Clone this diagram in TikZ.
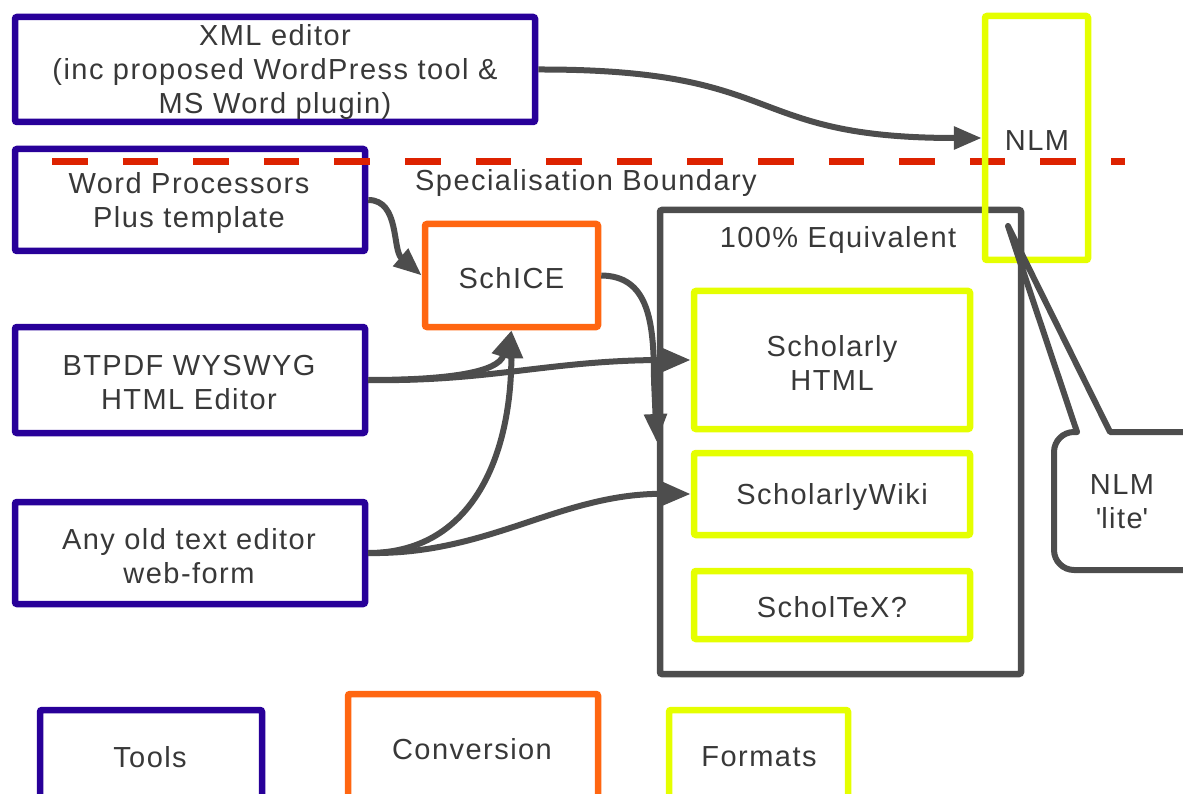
\documentclass[tikz,border=0pt]{standalone}
\usepackage{fontspec}
\setmainfont{Liberation Sans}[LetterSpace=5]
\usetikzlibrary{arrows.meta}
\definecolor{toolc}{HTML}{280099}
\definecolor{convc}{HTML}{FF6611}
\definecolor{fmtc}{HTML}{E5FF00}
\definecolor{grayc}{HTML}{4D4D4D}
\definecolor{redc}{HTML}{DD2200}
\definecolor{txtc}{HTML}{383838}
\tikzset{
  box/.style={draw, line width=6.5pt, rounded corners=2pt, inner sep=0pt},
  toolbox/.style={box, draw=toolc},
  convbox/.style={box, draw=convc},
  fmtbox/.style={box, draw=fmtc},
  grpbox/.style={box, draw=grayc},
  lbl/.style={text=txtc, font=\fontsize{29}{34}\selectfont, align=center, inner sep=0pt},
  conn/.style={draw=grayc, line width=6pt, -{Triangle[length=28pt,width=22pt]}},
}
\begin{document}
\begin{tikzpicture}[x=1pt,y=-1pt]
\useasboundingbox (0,0) rectangle (1183,794);
\clip (0,0) rectangle (1183,794);
% tools
\node[toolbox, minimum width=520pt, minimum height=105pt] (xml) at (275,69.5) {};
\node[lbl] (xmlt) at (275,72.5) {XML editor\\(inc proposed WordPress tool \&\\MS Word plugin)};
\node[toolbox, minimum width=350pt, minimum height=102pt] (wp) at (190,200) {};
\node[lbl] (wpt) at (189,203) {Word Processors\\Plus template};
\node[toolbox, minimum width=350pt, minimum height=106pt] (btpdf) at (190,380) {};
\node[lbl] (btpdft) at (189,383) {BTPDF WYSWYG\\HTML Editor};
\node[toolbox, minimum width=350pt, minimum height=102pt] (anyold) at (190,553) {};
\node[lbl] (anyoldt) at (189,556) {Any old text editor\\web-form};
% boundary
\coordinate (bl) at (52,162);
\coordinate (br) at (1125,162);
\draw[redc, line width=7pt, dash pattern=on 35.5pt off 35.1pt] (bl) -- (br);
\node[lbl] (bound) at (586,183) {Specialisation Boundary};
% conversion
\node[convbox, minimum width=173pt, minimum height=103pt] (schice) at (511.5,275.5) {};
\node[lbl] (schicet) at (511.5,278.5) {SchICE};
% equivalent group
\node[grpbox, minimum width=361pt, minimum height=464pt] (equiv) at (840.5,442) {};
\node[lbl] (equivlbl) at (838,240) {100\% Equivalent};
\node[fmtbox, minimum width=276pt, minimum height=138pt] (shtml) at (832,360) {};
\node[lbl] (shtmlt) at (832,363) {Scholarly\\HTML};
\node[fmtbox, minimum width=276pt, minimum height=82pt] (swiki) at (832,494) {};
\node[lbl] (swikit) at (832,497) {ScholarlyWiki};
\node[fmtbox, minimum width=276pt, minimum height=68pt] (stex) at (832,605) {};
\node[lbl] (stext) at (832,607) {ScholTeX?};
% NLM
\node[fmtbox, minimum width=103pt, minimum height=244pt] (nlm) at (1036.5,138) {};
\node[lbl] (nlmt) at (1037,141) {NLM};
% NLM lite callout
\coordinate (ptip) at (1008,226);
\draw[grayc, line width=6pt, line join=round, line cap=round]
  (1077,432) -- (ptip) -- (1110,432) [rounded corners=20pt] -- (1215,432) -- (1215,570)
  -- (1054,570) -- (1054,432) -- (1077,432);
\node[lbl] (lite) at (1122,502) {NLM\\\textquotesingle lite\textquotesingle};
% connectors
\draw[conn] (xml.east) .. controls (790,69) and (740,138) .. (nlm.west);
\draw[conn] (wp.east) .. controls (400,200) and (392,250) .. (schice.west);
\draw[conn] (btpdf.east) .. controls (450,380) and (498,372) .. (schice.south);
\draw[conn] (anyold.east) .. controls (470,553) and (511,460) .. (schice.south);
\draw[conn] (btpdf.east) .. controls (490,382) and (550,360) .. (shtml.west);
\draw[conn] (anyold.east) .. controls (490,555) and (560,493) .. (swiki.west);
\draw[conn] (schice.east) .. controls (648,276) and (654,320) .. (654,380) -- (equiv.west);
% legend
\node[toolbox, minimum width=222pt, minimum height=130pt] (legtools) at (151,775) {};
\node[lbl] (legtoolst) at (150,757) {Tools};
\node[convbox, minimum width=250pt, minimum height=150pt] (legconv) at (473,769) {};
\node[lbl] (legconvt) at (472,749) {Conversion};
\node[fmtbox, minimum width=179pt, minimum height=130pt] (legfmt) at (758.5,775) {};
\node[lbl] (legfmtt) at (759,757) {Formats};
\end{tikzpicture}
\end{document}
